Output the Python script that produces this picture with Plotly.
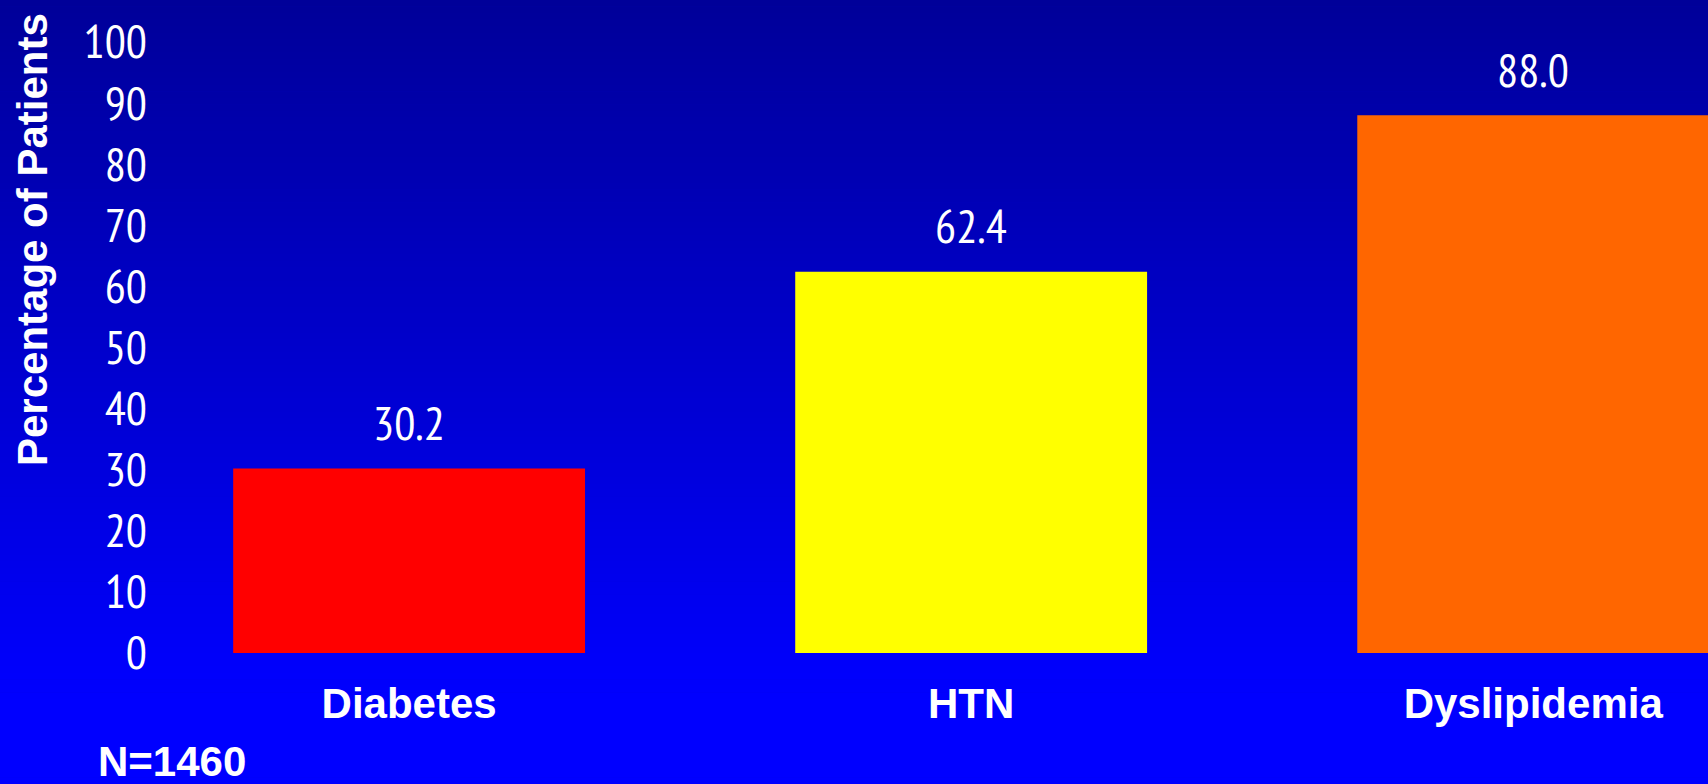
import plotly.graph_objects as go

# Data
categories = ["Diabetes", "HTN", "Dyslipidemia"]
percentages = [30.2, 62.4, 88.0]
bar_colors = ["#FF0000", "#FFFF00", "#FF6600"]
y_ticks = [0, 10, 20, 30, 40, 50, 60, 70, 80, 90, 100]

NARROW = "PT Sans Narrow, Roboto Condensed, Liberation Sans Narrow, sans-serif"
BOLD = "Liberation Sans, Arimo, Arial, sans-serif"

W, H = 1708, 784
M_L, M_R, M_T, M_B = 150, 0, 42, 131
plot_w = W - M_L - M_R
plot_h = H - M_T - M_B

fig = go.Figure()

fig.add_trace(go.Bar(
    x=categories,
    y=percentages,
    marker=dict(color=bar_colors, line=dict(width=0)),
    hoverinfo="x+y",
))

# Value labels above each bar
for cat, val in zip(categories, percentages):
    fig.add_annotation(
        x=cat, y=val, xref="x", yref="y",
        text=f"{val:.1f}", showarrow=False,
        yanchor="middle", yshift=46,
        font=dict(family=NARROW, size=47, color="white"),
    )

# Vertical gradient background (dark blue at top to bright blue lower down)
n_strips = 120
top_rgb = (0, 0, 0x99)
bot_rgb = (0, 0, 0xFF)
fade_end = 700  # pixel row where the gradient reaches full blue
for i in range(n_strips):
    y_top_px = H * i / n_strips
    y_bot_px = H * (i + 1) / n_strips
    t = min(1.0, ((y_top_px + y_bot_px) / 2) / fade_end)
    rgb = tuple(round(a + (b - a) * t) for a, b in zip(top_rgb, bot_rgb))
    fig.add_shape(
        type="rect", xref="paper", yref="paper", layer="below",
        x0=(0 - M_L) / plot_w, x1=(W - M_L) / plot_w,
        y0=(H - M_B - y_bot_px) / plot_h - 0.0005,
        y1=(H - M_B - y_top_px) / plot_h + 0.0005,
        line=dict(width=0), fillcolor="rgb(%d,%d,%d)" % rgb,
    )

# Axis title
fig.add_annotation(
    x=(32 - M_L) / plot_w, y=(H - M_B - 240) / plot_h,
    xref="paper", yref="paper", text="<b>Percentage of Patients</b>",
    showarrow=False, textangle=-90, xanchor="center", yanchor="middle",
    font=dict(family=BOLD, size=42, color="white"),
)

# Sample size note
fig.add_annotation(
    x=(172 - M_L) / plot_w, y=(H - M_B - 761) / plot_h,
    xref="paper", yref="paper", text="<b>N=1460</b>",
    showarrow=False, xanchor="center", yanchor="middle",
    font=dict(family=BOLD, size=42, color="white"),
)

fig.update_layout(
    width=W, height=H,
    margin=dict(l=M_L, r=M_R, t=M_T, b=M_B, pad=0),
    paper_bgcolor="#0000CC",
    plot_bgcolor="rgba(0,0,0,0)",
    bargap=0.374,
    showlegend=False,
    xaxis=dict(
        range=[-0.461, 2.311],
        showgrid=False, zeroline=False, showline=False, ticks="",
        tickfont=dict(family=BOLD, size=42, color="white"),
        ticklabelstandoff=22,
        tickprefix="<b>", ticksuffix="</b>",
    ),
    yaxis=dict(
        range=[0, 100],
        tickvals=y_ticks,
        ticktext=[str(v) for v in y_ticks],
        showgrid=False, zeroline=False, showline=False, ticks="",
        tickfont=dict(family=NARROW, size=47, color="white"),
        ticklabelstandoff=2,
    ),
)

fig.write_html("out.html")
